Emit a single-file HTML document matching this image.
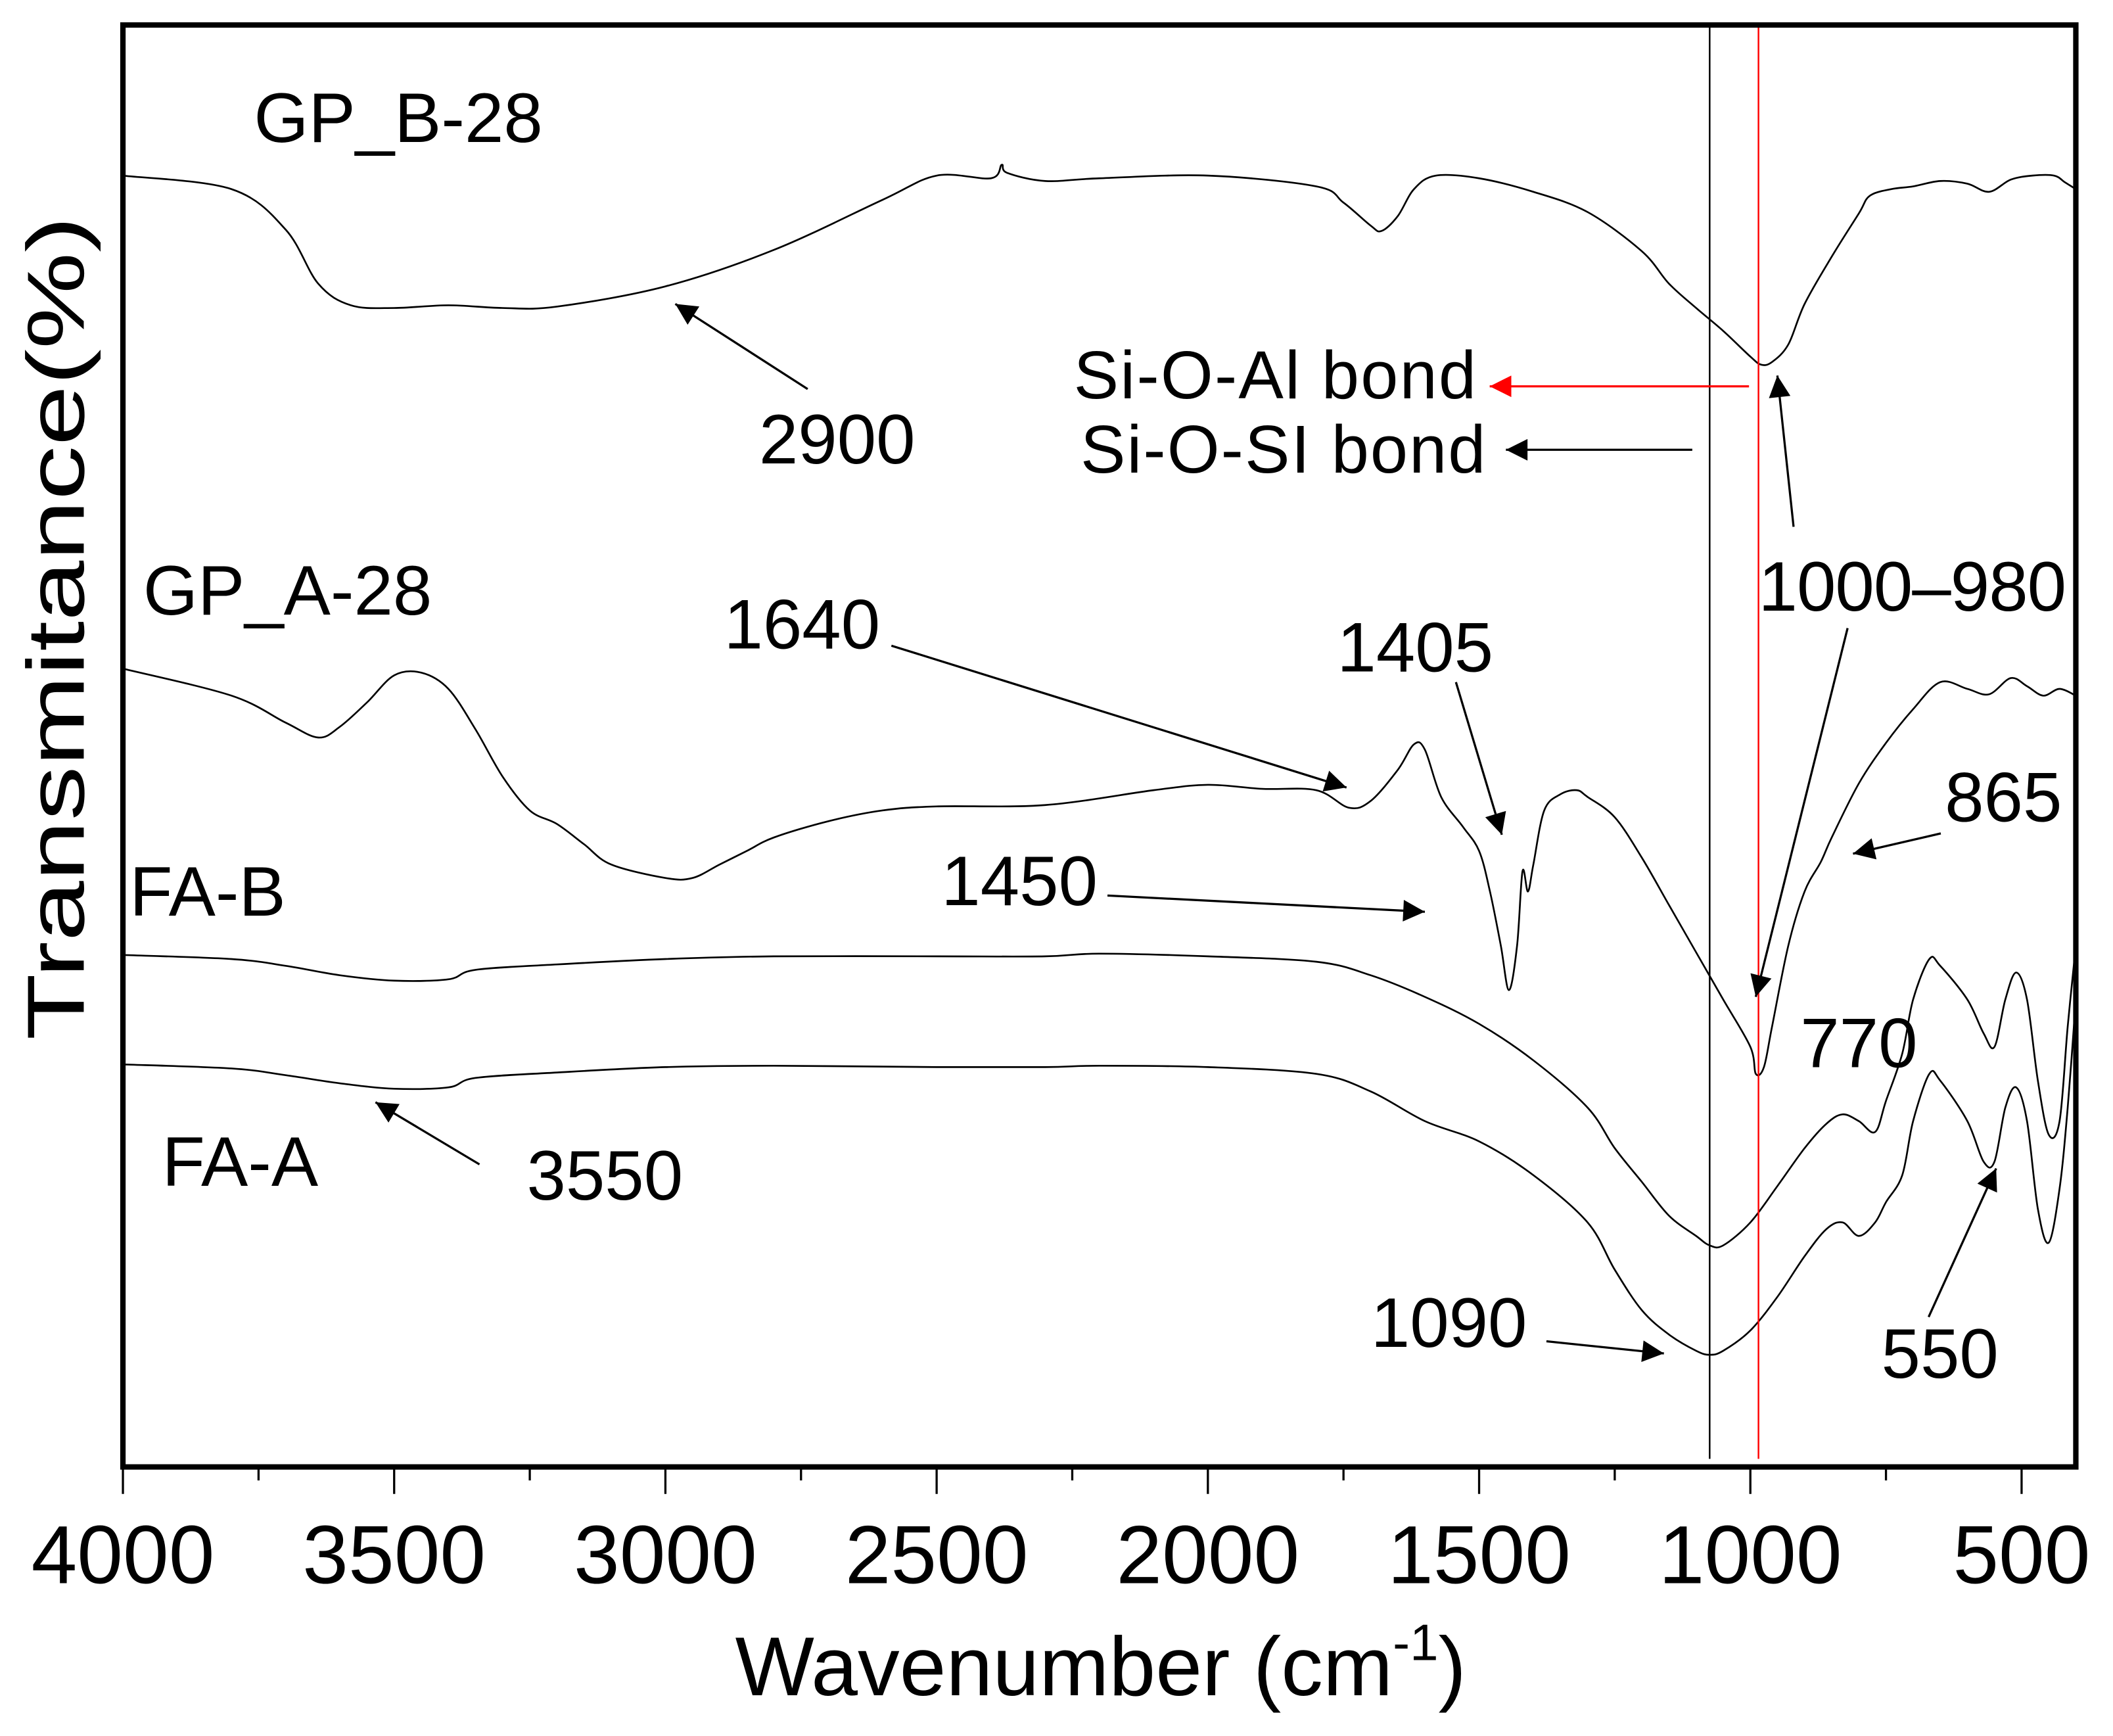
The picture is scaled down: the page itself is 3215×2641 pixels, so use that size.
<!DOCTYPE html>
<html><head><meta charset="utf-8"><style>
html,body{margin:0;padding:0;background:#fff}
svg{display:block}
text{font-family:"Liberation Sans",Arial,sans-serif;fill:#000}
</style></head><body>
<svg id="chart" width="3215" height="2641" viewBox="0 0 1564.5 1285.2" xmlns="http://www.w3.org/2000/svg">
<defs>
<marker id="ah" viewBox="0 0 10 10" refX="10" refY="5" markerWidth="30" markerHeight="16" markerUnits="userSpaceOnUse" orient="auto"><path d="M0,0 L10,5 L0,10 z" fill="#000"/></marker>
<marker id="ahr" viewBox="0 0 10 10" refX="10" refY="5" markerWidth="30" markerHeight="16" markerUnits="userSpaceOnUse" orient="auto"><path d="M0,0 L10,5 L0,10 z" fill="#f00"/></marker>
</defs>
<g id="series"></g>
<g id="axes"></g>
<g id="annot">
<text x="188" y="105" font-size="52">GP_B-28</text>
<text x="106" y="455" font-size="52">GP_A-28</text>
<text x="96" y="678" font-size="52">FA-B</text>
<text x="120" y="878" font-size="52">FA-A</text>
<text x="795" y="295" font-size="50" textLength="298">Si-O-Al bond</text>
<text x="800" y="350" font-size="50" textLength="300">Si-O-SI bond</text>
<text x="562" y="343" font-size="52">2900</text>
<text x="536" y="480" font-size="52">1640</text>
<text x="990" y="497" font-size="52">1405</text>
<text x="1302" y="452" font-size="52" textLength="228">1000–980</text>
<text x="1440" y="608" font-size="52">865</text>
<text x="697" y="670" font-size="52">1450</text>
<text x="1333" y="790" font-size="52">770</text>
<text x="390" y="888" font-size="52">3550</text>
<text x="1015" y="997" font-size="52">1090</text>
<text x="1393" y="1020" font-size="52">550</text>
<g stroke="#000" stroke-width="1.6" fill="none">
<line x1="598" y1="288" x2="500" y2="225" marker-end="url(#ah)"/>
<line x1="1253" y1="333" x2="1115" y2="333" marker-end="url(#ah)"/>
<line x1="660" y1="478" x2="997" y2="583" marker-end="url(#ah)"/>
<line x1="1078" y1="505" x2="1112" y2="618" marker-end="url(#ah)"/>
<line x1="1368" y1="465" x2="1300" y2="738" marker-end="url(#ah)"/>
<line x1="1328" y1="390" x2="1316" y2="278" marker-end="url(#ah)"/>
<line x1="1437" y1="617" x2="1372" y2="632" marker-end="url(#ah)"/>
<line x1="820" y1="663" x2="1055" y2="675" marker-end="url(#ah)"/>
<line x1="355" y1="862" x2="278" y2="816" marker-end="url(#ah)"/>
<line x1="1145" y1="993" x2="1232" y2="1002" marker-end="url(#ah)"/>
<line x1="1428" y1="975" x2="1478" y2="865" marker-end="url(#ah)"/>
</g>
<line x1="1295" y1="286" x2="1103" y2="286" stroke="#f00" stroke-width="1.6" marker-end="url(#ahr)"/>
</g>
</svg>
<script>
const wnB = [4000,3800,3700,3640,3580,3500,3400,3300,3200,3000,2800,2600,2500,2400,2380,2370,2300,2200,2000,1800,1750,1700,1680,1650,1620,1580,1500,1400,1300,1200,1150,1100,1050,1000,980,960,930,900,850,800,780,740,700,650,600,560,520,480,440,420,400];
const gpB = [95.6,94.6,91.6,87.6,86.0,85.8,86.0,85.8,85.9,87.4,90.1,93.8,95.6,95.4,96.4,95.8,95.2,95.4,95.6,94.8,93.6,91.9,91.5,92.6,94.6,95.6,95.4,94.4,92.9,90.0,87.6,85.8,84.1,82.2,81.6,81.8,83.1,86.1,89.6,92.8,94.1,94.6,94.8,95.2,95.0,94.4,95.3,95.6,95.6,95.1,94.6];
const wnA = [4000,3800,3700,3640,3600,3550,3500,3450,3400,3350,3300,3250,3200,3150,3100,3000,2950,2900,2850,2800,2700,2600,2500,2300,2100,2000,1900,1800,1740,1700,1650,1620,1600,1570,1530,1500,1480,1460,1445,1430,1420,1410,1400,1380,1350,1320,1300,1250,1200,1150,1100,1050,1000,990,975,960,930,900,870,850,800,750,700,650,600,560,520,490,460,430,400];
const gpA = [59.1,57.1,55.1,54.0,54.8,56.6,58.6,58.8,57.6,54.6,51.1,48.6,47.6,46.1,44.6,43.6,43.6,44.6,45.6,46.6,47.8,48.6,48.9,49.0,50.1,50.5,50.2,50.1,48.8,49.3,51.6,53.5,53.1,49.6,47.4,45.6,42.6,38.6,35.3,38.6,44.1,42.6,44.6,48.6,49.8,50.1,49.6,48.1,45.1,41.6,38.1,34.6,31.1,29.1,29.6,32.6,38.6,42.6,44.8,46.6,50.6,53.6,56.1,58.1,57.6,57.2,58.4,57.8,57.1,57.6,57.1];
const wnF = [4000,3800,3700,3600,3500,3400,3350,3200,3000,2800,2500,2300,2200,2000,1800,1700,1600,1500,1400,1300,1250,1200,1150,1100,1075,1050,1000,950,900,860,830,800,770,750,720,700,670,650,600,570,550,530,510,490,470,450,430,415,400];
const faB = [37.9,37.6,37.1,36.4,36.0,36.1,36.8,37.2,37.6,37.8,37.8,37.8,38.0,37.8,37.4,36.4,34.8,32.8,30.1,26.6,23.6,21.1,18.6,17.1,16.4,16.4,18.1,20.8,23.6,25.4,26.1,25.6,24.8,27.1,30.6,34.6,37.6,37.1,34.6,32.1,31.1,34.6,36.6,34.6,28.6,24.6,25.6,32.6,38.6];
const faA = [29.8,29.5,29.0,28.4,28.0,28.1,28.8,29.2,29.6,29.7,29.6,29.6,29.7,29.6,29.1,27.8,25.6,24.1,21.6,18.1,14.6,11.6,9.8,8.6,8.3,8.6,10.1,12.6,15.6,17.6,18.1,17.1,18.1,19.6,21.6,25.6,29.1,28.6,25.6,22.6,22.6,26.6,28.1,25.6,19.1,16.6,20.6,26.6,34.6];
const majorTicks = [4000,3500,3000,2500,2000,1500,1000,500];
const tickLabels = ["4000","3500","3000","2500","2000","1500","1000","500"];
const minorTicks = [3750,3250,2750,2250,1750,1250,750];
const refLines = [1075,985];

const NS="http://www.w3.org/2000/svg";
const X0=91, X1=1537, Y0=18.5, Y1=1086;
function xs(w){return X0+(4000-w)/3600*(X1-X0);}
function ys(v){return Y1-v*10;}
function mk(tag,attrs,parent){const e=document.createElementNS(NS,tag);for(const k in attrs)e.setAttribute(k,attrs[k]);parent.appendChild(e);return e;}
const sg=document.getElementById('series'), ag=document.getElementById('axes');
function smoothPath(pts){
  let d='M'+pts[0][0].toFixed(2)+','+pts[0][1].toFixed(2);
  for(let i=0;i<pts.length-1;i++){
    const p0=pts[Math.max(0,i-1)],p1=pts[i],p2=pts[i+1],p3=pts[Math.min(pts.length-1,i+2)];
    const c1x=p1[0]+(p2[0]-p0[0])/6,c1y=p1[1]+(p2[1]-p0[1])/6;
    const c2x=p2[0]-(p3[0]-p1[0])/6,c2y=p2[1]-(p3[1]-p1[1])/6;
    d+=' C'+c1x.toFixed(2)+','+c1y.toFixed(2)+' '+c2x.toFixed(2)+','+c2y.toFixed(2)+' '+p2[0].toFixed(2)+','+p2[1].toFixed(2);
  }
  return d;
}
function drawSeries(wn,vals,name){
  const pts=wn.map((w,i)=>[xs(w),ys(vals[i])]);
  const p=mk('path',{d:smoothPath(pts),fill:'none',stroke:'#000','stroke-width':1.3,'stroke-linejoin':'round'},sg);
  
  
}
drawSeries(wnB,gpB,'series-gp-b-28');
drawSeries(wnA,gpA,'series-gp-a-28');
drawSeries(wnF,faB,'series-fa-b');
drawSeries(wnF,faA,'series-fa-a');
refLines.forEach((w,i)=>{
  const l=mk('line',{x1:xs(w),x2:xs(w),y1:Y0,y2:1080,stroke:i?'#f00':'#000','stroke-width':1.2},ag);
  
  
});
const box=mk('rect',{x:X0,y:Y0,width:X1-X0,height:Y1-Y0,fill:'none',stroke:'#000','stroke-width':4},ag);


majorTicks.forEach((w,i)=>{
  const t=mk('line',{x1:xs(w),x2:xs(w),y1:Y1,y2:Y1+20,stroke:'#000','stroke-width':1.6},ag);
  
  
  const tx=mk('text',{x:xs(w),y:1172,'font-size':61,'text-anchor':'middle'},ag);
  tx.textContent=tickLabels[i];
  
  
});
minorTicks.forEach(w=>{
  const t=mk('line',{x1:xs(w),x2:xs(w),y1:Y1,y2:Y1+10,stroke:'#000','stroke-width':1.6},ag);
  
  
});
const xt=mk('text',{x:815,y:1255,'font-size':62,'text-anchor':'middle'},ag);
xt.innerHTML='Wavenumber (cm<tspan font-size="38" dy="-26">-1</tspan><tspan dy="26">)</tspan>';


const yt=mk('text',{x:0,y:0,'font-size':60,'text-anchor':'middle',transform:'translate(62,465) rotate(-90)',textLength:610,lengthAdjust:'spacingAndGlyphs'},ag);
yt.textContent='Transmitance(%)';


</script>
</body></html>
